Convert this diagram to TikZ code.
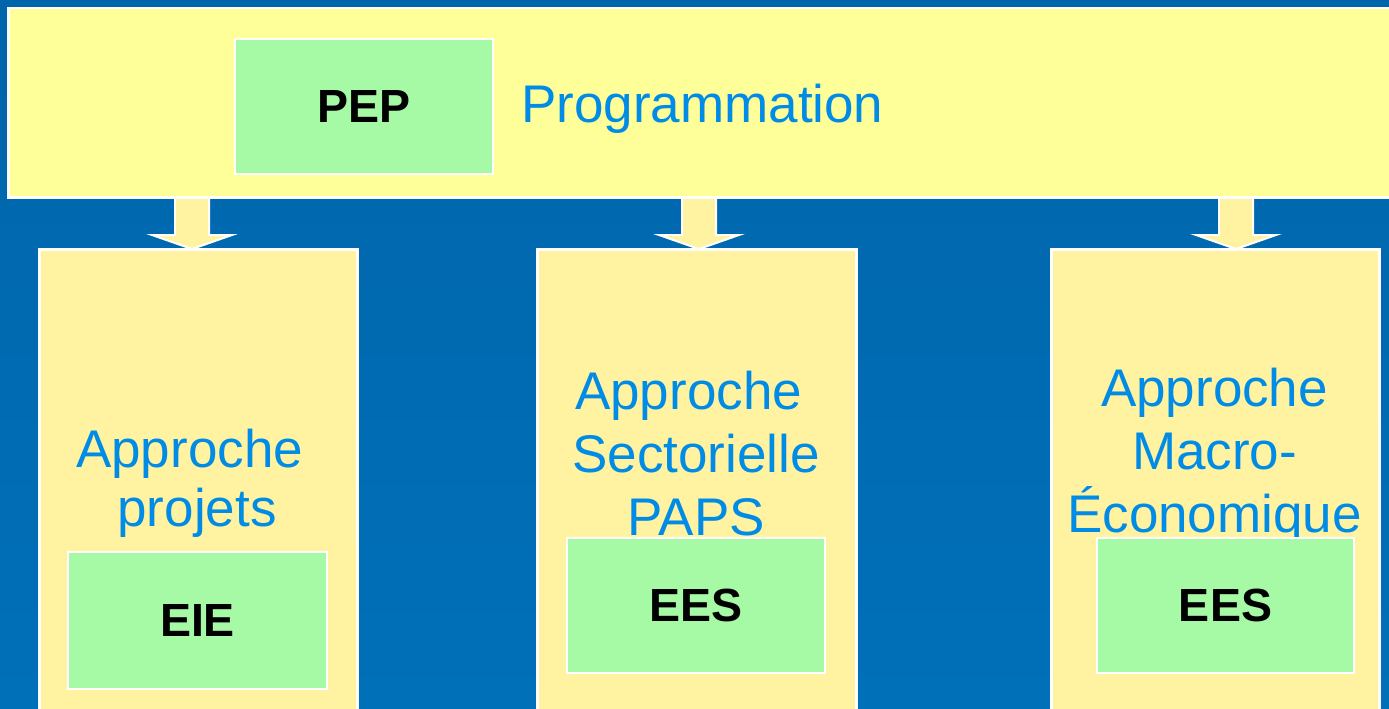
\documentclass[tikz,border=0pt]{standalone}
\usepackage{fontspec}
\setmainfont{Liberation Sans}
\usetikzlibrary{positioning, calc}
\definecolor{SlideTop}{RGB}{0, 101, 170}
\definecolor{SlideBottom}{RGB}{0, 112, 185}
\definecolor{BandYellow}{RGB}{255, 255, 153}
\definecolor{ColumnYellow}{RGB}{255, 242, 160}
\definecolor{TagGreen}{RGB}{166, 250, 166}
\definecolor{CaptionBlue}{RGB}{0, 140, 230}

\begin{document}
\begin{tikzpicture}[
        x=1pt, y=-1pt,
        band/.style={draw=white, line width=2.5pt, fill=BandYellow, inner sep=0pt, anchor=north west},
        column/.style={draw=white, line width=2.5pt, fill=ColumnYellow, inner sep=0pt, anchor=north west},
        tag/.style={draw=white, line width=2pt, fill=TagGreen, inner sep=0pt, anchor=north west, font=\fontsize{46.5}{50}\selectfont\bfseries},
        caption/.style={text=CaptionBlue, font=\fontsize{53}{63}\selectfont, align=center, inner sep=0pt, anchor=base},
        flow/.style={fill=ColumnYellow, draw=white, line width=2pt, line join=miter}
    ]

    \useasboundingbox (0,0) rectangle (1389,709);
    \clip (0,0) rectangle (1389,709);
    \shade[top color=SlideTop, bottom color=SlideBottom] (0,0) rectangle (1389,709);

    % arrows from the band down to the columns
    \foreach \x in {192, 699, 1236}
        \draw[flow] (\x-17,190) -- (\x+17,190) -- (\x+17,235) -- (\x+40,235) -- (\x,249) -- (\x-40,235) -- (\x-17,235) -- cycle;

    \node[band, minimum width=1400pt, minimum height=189pt] (prog) at (7,7) {};
    \node[tag, minimum width=258pt, minimum height=135pt] (pep) at (234,38) {PEP};
    \node[text=CaptionBlue, font=\fontsize{53}{63}\selectfont, inner sep=0pt, anchor=base west] (progtext) at (521,122) {Programmation};

    \node[column, minimum width=318pt, minimum height=480pt] (projets) at (38,248) {};
    \node[column, minimum width=319pt, minimum height=480pt] (secteur) at (536,248) {};
    \node[column, minimum width=328pt, minimum height=480pt] (macro) at (1050,248) {};

    % base anchor sits on the last line
    \node[caption, font=\fontsize{53}{59}\selectfont] (projtext) at (197,526) {Approche\hspace*{.28em}\\projets};
    \node[caption] (secttext) at (696,535) {Approche\hspace*{.28em}\\Sectorielle\\PAPS};
    \node[caption] (macrotext) at (1214.5,532) {Approche\\Macro-\\Économique};

    \node[tag, minimum width=259pt, minimum height=137pt] (eie) at (67,551) {EIE};
    \node[tag, minimum width=258pt, minimum height=135pt] (ees1) at (566,537) {EES};
    \node[tag, minimum width=257pt, minimum height=135pt] (ees2) at (1096,537) {EES};

\end{tikzpicture}
\end{document}
